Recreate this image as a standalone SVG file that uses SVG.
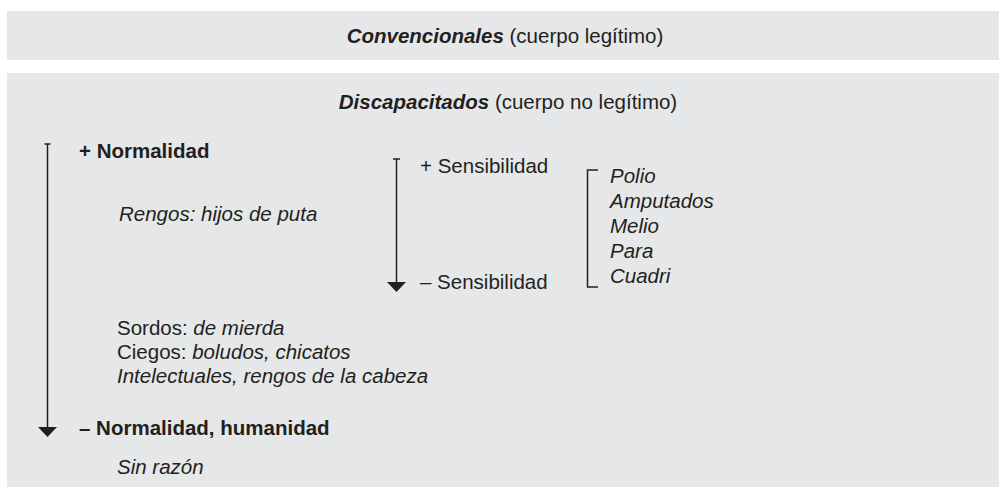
<svg xmlns="http://www.w3.org/2000/svg" width="999" height="487" viewBox="0 0 999 487">
<style>
.box{fill:#e6e7e8}
text{font-family:"Liberation Sans",Arial,sans-serif;font-size:20.5px;fill:#231f20}
.b{font-weight:bold}
.i{font-style:italic}
.ln{stroke:#231f20;stroke-width:1.5;fill:none}
.hd{fill:#231f20}
</style>
<rect width="999" height="487" fill="#ffffff"/>
<g id="convencionales">
<rect class="box" x="7" y="11" width="992" height="49"/>
<text x="505" y="43" text-anchor="middle"><tspan class="b i">Convencionales</tspan> (cuerpo legítimo)</text>
</g>
<g id="discapacitados">
<rect class="box" x="7" y="73" width="992" height="414"/>
<text x="508" y="109" text-anchor="middle"><tspan class="b i">Discapacitados</tspan> (cuerpo no legítimo)</text>
</g>
<g id="connectors">
<line class="ln" x1="47.5" y1="144" x2="47.5" y2="429"/>
<line class="ln" x1="44.5" y1="144" x2="50.5" y2="144"/>
<polygon class="hd" points="38,427 57,427 47.5,437"/>
<line class="ln" x1="396.5" y1="159" x2="396.5" y2="284"/>
<line class="ln" x1="393" y1="159" x2="400" y2="159"/>
<polygon class="hd" points="387,282 406,282 396.5,292"/>
<polyline class="ln" points="598,170 587.5,170 587.5,287 598,287"/>
</g>
<g id="normalidad-alta">
<text class="b" x="79" y="158">+ Normalidad</text>
<text class="i" x="119" y="221">Rengos: hijos de puta</text>
</g>
<g id="sensibilidad">
<text x="420" y="173">+ Sensibilidad</text>
<text x="420" y="289">– Sensibilidad</text>
</g>
<g id="lista">
<text class="i" x="610" y="183">Polio</text>
<text class="i" x="610" y="208">Amputados</text>
<text class="i" x="610" y="233">Melio</text>
<text class="i" x="610" y="258">Para</text>
<text class="i" x="610" y="283">Cuadri</text>
</g>
<g id="grupos">
<text x="117" y="335">Sordos: <tspan class="i">de mierda</tspan></text>
<text x="117" y="359">Ciegos: <tspan class="i">boludos, chicatos</tspan></text>
<text class="i" x="117" y="383">Intelectuales, rengos de la cabeza</text>
</g>
<g id="normalidad-baja">
<text class="b" x="79" y="435">– Normalidad, humanidad</text>
<text class="i" x="117" y="474">Sin razón</text>
</g>
</svg>
